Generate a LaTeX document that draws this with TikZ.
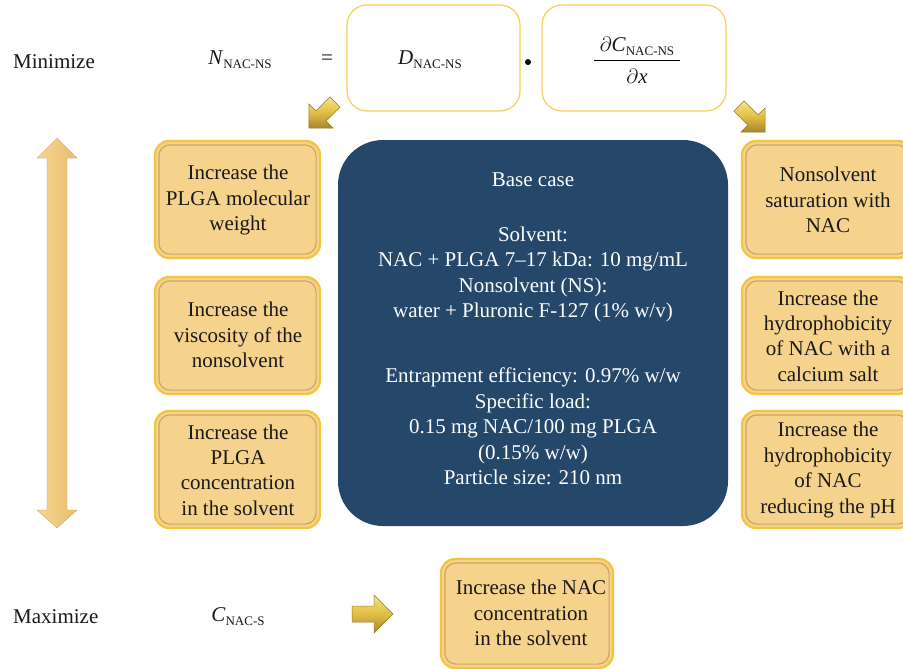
\documentclass[tikz,border=0pt]{standalone}
\usepackage{fontspec}
\setmainfont{Liberation Serif}
\definecolor{navy}{HTML}{24476A}
\definecolor{goldfill}{HTML}{F6D38C}
\definecolor{goldedge}{HTML}{F3C43C}
\definecolor{goldshadow}{HTML}{B8944E}
\definecolor{boxline}{HTML}{F8CE58}
\definecolor{arrowL}{HTML}{F6D590}
\definecolor{arrowR}{HTML}{E8BE6E}
\definecolor{arrTop}{HTML}{F7E583}
\definecolor{arrMid}{HTML}{E0BE45}
\definecolor{arrBot}{HTML}{A9862B}
\newcommand\bodyfont{\fontsize{21}{25.4}\selectfont}
\newcommand\subtxt[1]{\raisebox{-0.4ex}{\fontsize{13}{13}\selectfont #1}}
\tikzset{
  goldbox/.style={rounded corners=14pt, fill=goldfill, draw=goldedge, line width=2.2pt,
    inner sep=0pt, minimum width=165pt, minimum height=117pt},
  bevel/.style={rounded corners=11pt, draw=goldshadow, line width=1.2pt, opacity=0.7},
  whitebox/.style={rounded corners=20pt, fill=white, draw=boxline, line width=1.2pt,
    inner sep=0pt},
  txt/.style={font=\bodyfont, align=center, text=black!90, inner sep=0pt},
  wtxt/.style={font=\bodyfont, align=center, text=white, inner sep=0pt},
  gold3d/.style={top color=arrTop, bottom color=arrBot, middle color=arrMid, draw=arrBot!90!black, line width=0.5pt},
  pics/goldarr/.style={code={
    \path[gold3d] (0,-8) -- (22,-8) -- (22,-19) -- (41,0) -- (22,19) -- (22,8) -- (0,8) -- cycle;
  }}
}
\begin{document}
\begin{tikzpicture}[x=1pt,y=-1pt]
\clip (0,0) rectangle (903,669);
\fill[white] (0,0) rectangle (903,669);

% top row
\node[txt, anchor=west] (minimize) at (13,62) {Minimize};
\node[txt] (N) at (240,60) {\textit{N}\subtxt{NAC-NS}};
\node[txt] (eq) at (327,60) {=};
\node[whitebox, minimum width=173pt, minimum height=106pt] (bD) at (433.5,58) {};
\node[txt] (D) at (430,60) {\textit{D}\subtxt{NAC-NS}};
\fill (528,62) circle (3pt) coordinate (dot);
\node[whitebox, minimum width=184pt, minimum height=106pt] (bC) at (634,58) {};
\node[txt, anchor=base] (num) at (637,52) {$\partial$\textit{C}\subtxt{NAC-NS}};
\draw[line width=0.9pt] (594,60) -- (680,60);
\node[txt, anchor=base] (den) at (637,84) {$\partial$\textit{x}};

% diagonal and right arrows
\pic[rotate=225, scale=0.9] at (335,102) {goldarr};
\pic[rotate=-45, scale=0.9] at (739,106) {goldarr};

% vertical double arrow
\path[left color=arrowL, right color=arrowR, draw=arrowR!85!black, line width=0.3pt]
  (57,138) -- (77,158) -- (67,158) -- (67,510) -- (77,510) -- (57,528) -- (37,510)
  -- (47,510) -- (47,158) -- (37,158) -- cycle;

% left boxes
\foreach \n/\y in {L1/199.5, L2/335.5, L3/469.5}{
  \node[goldbox] (\n) at (237.5,\y) {};
  \draw[bevel] ([shift={(5,5)}]\n.north west) rectangle ([shift={(-5,-5)}]\n.south east);
}
\node[txt] (tL1) at (238,200) {Increase the\\PLGA molecular\\weight};
\node[txt] (tL2) at (238,335) {Increase the\\viscosity of the\\nonsolvent};
\node[txt] (tL3) at (238,470) {Increase the\\PLGA\\concentration\\in the solvent};

% right boxes
\foreach \n/\y in {R1/199.5, R2/335.5, R3/469.5}{
  \node[goldbox, minimum width=170pt] (\n) at (827,\y) {};
  \draw[bevel] ([shift={(5,5)}]\n.north west) rectangle ([shift={(-5,-5)}]\n.south east);
}
\node[txt] (tR1) at (828,200) {Nonsolvent\\saturation with\\NAC};
\node[txt] (tR2) at (828,336) {Increase the\\hydrophobicity\\of NAC with a\\calcium salt};
\node[txt] (tR3) at (828,470) {Increase the\\hydrophobicity\\of NAC\\reducing the pH};

% center box
\node[fill=navy, rounded corners=45pt, minimum width=390pt, minimum height=386pt, inner sep=0pt] (base) at (533,333) {};
\node[wtxt] (t1) at (533,180) {Base case};
\node[wtxt] (t2) at (533,274.5) {Solvent:\\NAC + PLGA 7--17 kDa: 10 mg/mL\\Nonsolvent (NS):\\water + Pluronic F-127 (1\% w/v)};
\node[wtxt] (t3) at (533,426.5) {Entrapment efficiency: 0.97\% w/w\\Specific load:\\0.15 mg NAC/100 mg PLGA\\(0.15\% w/w)\\Particle size: 210 nm};

% bottom row
\node[txt, anchor=west] (maximize) at (13,617) {Maximize};
\node[txt] (CS) at (238,617) {\textit{C}\subtxt{NAC-S}};
\pic at (352,614) {goldarr};
\node[goldbox, minimum width=172pt, minimum height=109pt] (B) at (527,613.5) {};
\draw[bevel] ([shift={(5,5)}]B.north west) rectangle ([shift={(-5,-5)}]B.south east);
\node[txt] (tB) at (531,613) {Increase the NAC\\concentration\\in the solvent};
\end{tikzpicture}
\end{document}
